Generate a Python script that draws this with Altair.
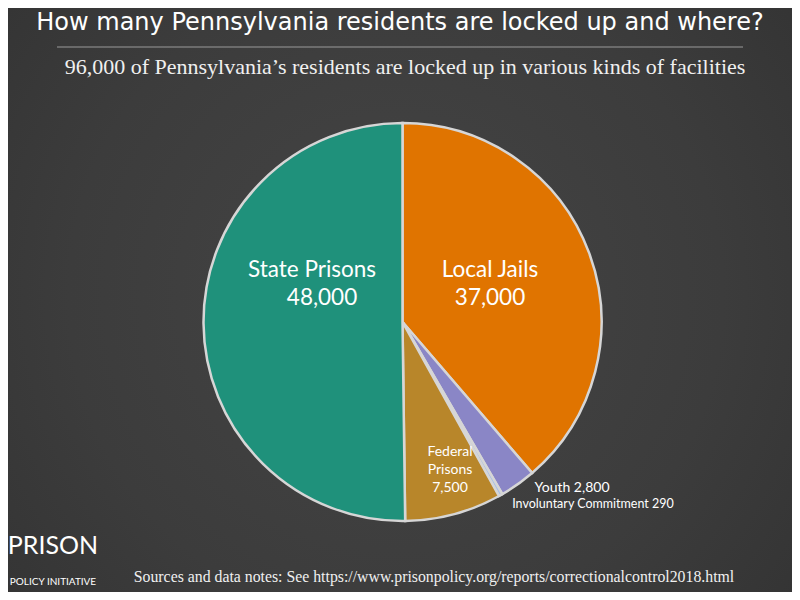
import altair as alt
import pandas as pd

categories = ["Local Jails", "Youth", "Involuntary Commitment", "Federal Prisons", "State Prisons"]
values = [37000, 2800, 290, 7500, 48000]
colors = ["#e07400", "#8a86c6", "#a9bfe6", "#b8862a", "#1f917b"]
order = [1, 2, 3, 4, 5]

df = pd.DataFrame({"category": categories, "value": values, "order": order})

OX, OY = -8, -8  # page margin offset
W, H = 784, 584
CX, CY, R = 402.5 + OX, 322 + OY, 199

one = pd.DataFrame({"a": [0]})

bg = alt.Chart(one).mark_rect(
    color=alt.RadialGradient(
        gradient="radial",
        stops=[alt.GradientStop(color="#454545", offset=0),
               alt.GradientStop(color="#3c3c3c", offset=0.55),
               alt.GradientStop(color="#303030", offset=1)],
        x1=0.5, y1=0.5, x2=0.5, y2=0.5, r1=0, r2=0.75,
    )
).encode(x=alt.value(OX), x2=alt.value(W), y=alt.value(OY), y2=alt.value(H))

pie = alt.Chart(df).mark_arc(stroke="#d6d6d6", strokeWidth=2.5, outerRadius=R).encode(
    theta=alt.Theta("value:Q", stack=True),
    order=alt.Order("order:Q"),
    color=alt.Color("category:N", scale=alt.Scale(domain=categories, range=colors), legend=None),
    x=alt.value(CX),
    y=alt.value(CY),
)

def txt(text, x, y, size, font="Lato", color="white", align="center", weight="normal"):
    kw = dict(text=text, fontSize=size, font=font, color=color, align=align,
              baseline="middle", fontWeight=weight)
    return alt.Chart(one).mark_text(**kw).encode(
        x=alt.value(x + OX), y=alt.value(y + OY))

title_text = "How many Pennsylvania residents are locked up and where?"
subtitle_text = "96,000 of Pennsylvania\u2019s residents are locked up in various kinds of facilities"
source_text = "Sources and data notes: See https://www.prisonpolicy.org/reports/correctionalcontrol2018.html"

rule = alt.Chart(one).mark_rule(color="#9a9a9a", strokeWidth=1).encode(
    x=alt.value(57 + OX), x2=alt.value(743 + OX), y=alt.value(47 + OY))

layers = [
    bg,
    pie,
    rule,
    txt(title_text, 400, 23, 24, font="DejaVu Sans"),
    txt(subtitle_text, 405, 67, 22, font="Liberation Serif", color="#f0f0f0"),
    txt("State Prisons", 312, 270, 22.5),
    txt("48,000", 322, 298, 22.5),
    txt("Local Jails", 490, 270, 22.5),
    txt("37,000", 490, 298, 22.5),
    txt("Federal", 450, 452, 14),
    txt("Prisons", 450, 470, 14),
    txt("7,500", 450, 488, 14),
    txt("Youth 2,800", 572, 488, 14),
    txt("Involuntary Commitment 290", 593, 504, 12.5),
    txt(source_text, 434, 577, 15.8, font="Liberation Serif", color="#f0f0f0"),
    txt("PRISON", 53, 546, 25, font="Lato"),
    txt("POLICY INITIATIVE", 53, 582, 10, font="Lato"),
]

chart = alt.layer(*layers).properties(
    width=W, height=H, background="#333333", padding=0,
    autosize=alt.AutoSizeParams(type="none"),
).configure_view(stroke=None)

chart.save("out.html", embed_options={"renderer": "svg", "actions": False})
